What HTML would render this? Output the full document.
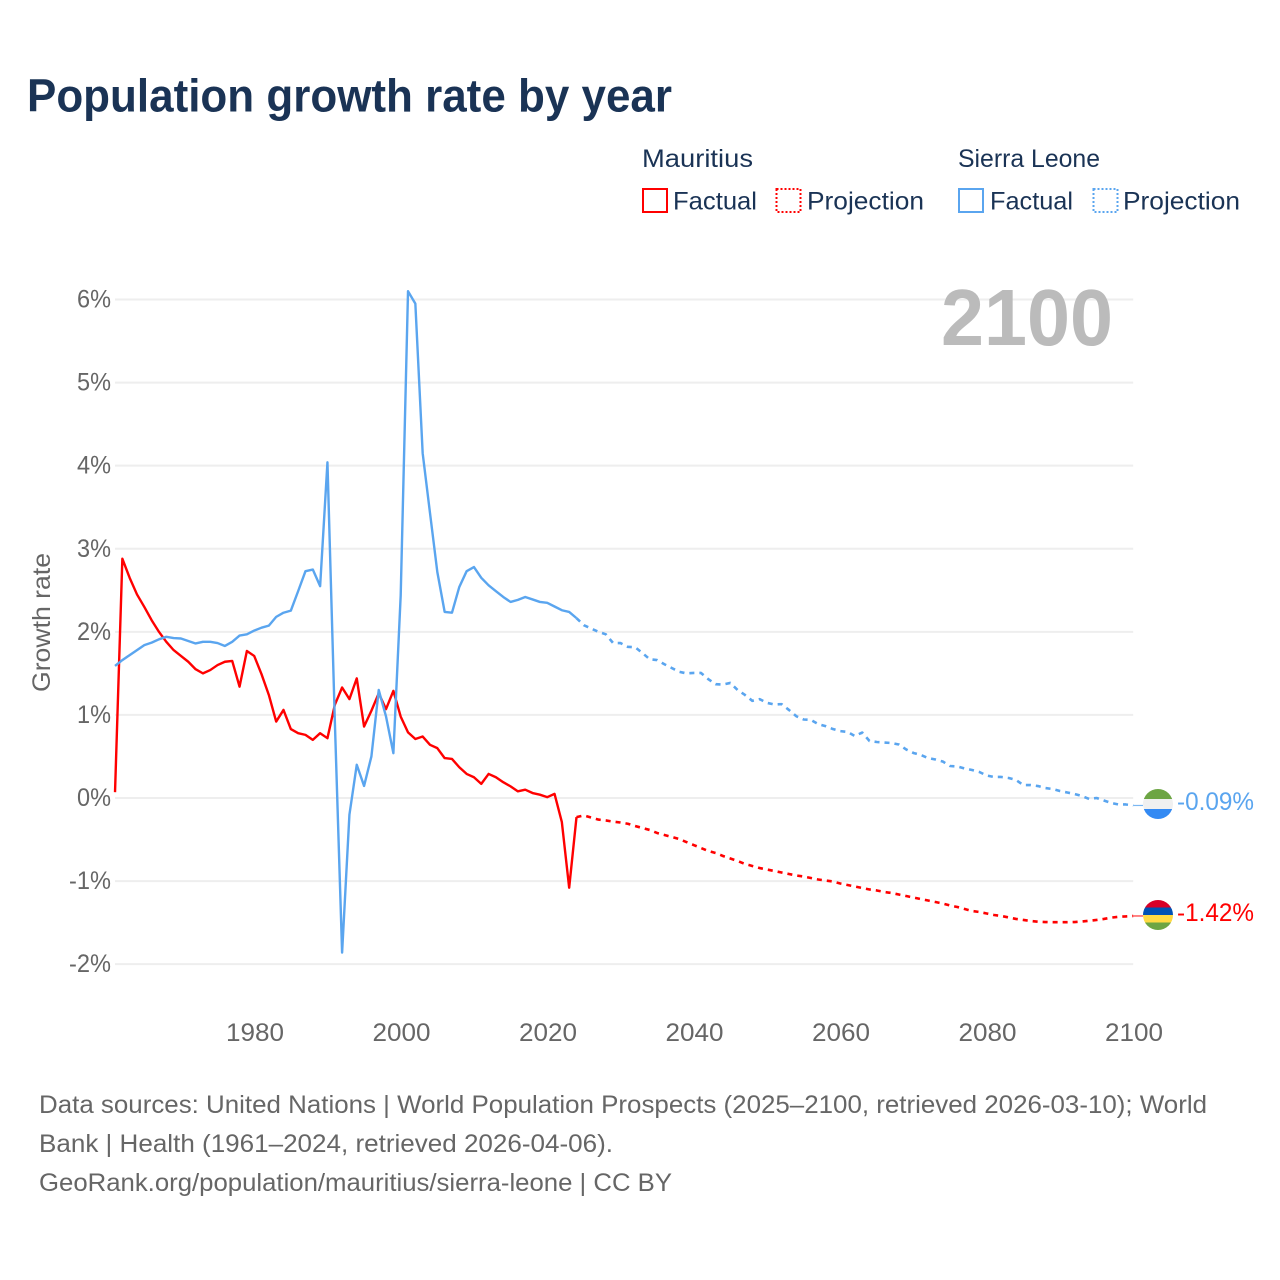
<!DOCTYPE html>
<html lang="en">
<head>
<meta charset="utf-8">
<title>Population growth rate by year</title>
<style>
  html, body { margin: 0; padding: 0; background: #fff; }
  svg { display: block; font-family: "Liberation Sans", sans-serif; }
</style>
</head>
<body>
<svg id="chart" width="1280" height="1280" viewBox="0 0 1280 1280" xmlns="http://www.w3.org/2000/svg">
  <rect width="1280" height="1280" fill="#ffffff"/>
  <text x="27" y="111.5" font-size="46" font-weight="700" fill="#1a3355" textLength="645" lengthAdjust="spacingAndGlyphs">Population growth rate by year</text>

  <g font-size="25" fill="#1a3355">
    <text x="642" y="167" textLength="111" lengthAdjust="spacingAndGlyphs">Mauritius</text>
    <text x="958" y="167" textLength="142" lengthAdjust="spacingAndGlyphs">Sierra Leone</text>
    <rect x="643" y="189" width="24" height="23" fill="none" stroke="#ff0000" stroke-width="2"/>
    <text x="673" y="209.5" textLength="84" lengthAdjust="spacingAndGlyphs">Factual</text>
    <rect x="776.5" y="189" width="24" height="23" fill="none" stroke="#ff0000" stroke-width="2" stroke-dasharray="2 2"/>
    <text x="807" y="209.5" textLength="117" lengthAdjust="spacingAndGlyphs">Projection</text>
    <rect x="959" y="189" width="24" height="23" fill="none" stroke="#5aa5ef" stroke-width="2"/>
    <text x="990" y="209.5" textLength="83" lengthAdjust="spacingAndGlyphs">Factual</text>
    <rect x="1093.5" y="189" width="24" height="23" fill="none" stroke="#5aa5ef" stroke-width="2" stroke-dasharray="2 2"/>
    <text x="1123" y="209.5" textLength="117" lengthAdjust="spacingAndGlyphs">Projection</text>
  </g>

  <g id="grid"></g>
  <g id="y-ticks" font-size="25" fill="#666666"></g>
  <g id="x-ticks" font-size="25" fill="#666666"></g>
  <text transform="translate(50 692) rotate(-90)" font-size="25" fill="#666666" textLength="139" lengthAdjust="spacingAndGlyphs">Growth rate</text>
  <text x="941" y="345" font-size="80" font-weight="700" fill="#bbbbbb" textLength="172" lengthAdjust="spacingAndGlyphs">2100</text>

  <g id="series" fill="none" stroke-linejoin="round"></g>

  <defs>
    <clipPath id="flag-clip-sl"><circle id="clip-sl" cx="1158" cy="804" r="15"/></clipPath>
    <clipPath id="flag-clip-mu"><circle id="clip-mu" cx="1158" cy="915" r="15"/></clipPath>
  </defs>
  <g id="flag-sl" clip-path="url(#flag-clip-sl)">
    <rect x="1143" y="789" width="30" height="10" fill="#6da544"/>
    <rect x="1143" y="799" width="30" height="10" fill="#f0f0f0"/>
    <rect x="1143" y="809" width="30" height="10" fill="#338af3"/>
  </g>
  <g id="flag-mu" clip-path="url(#flag-clip-mu)">
    <rect x="1143" y="900" width="30" height="7.5" fill="#d80027"/>
    <rect x="1143" y="907.5" width="30" height="7.5" fill="#0052b4"/>
    <rect x="1143" y="915" width="30" height="7.5" fill="#ffda44"/>
    <rect x="1143" y="922.5" width="30" height="7.5" fill="#6da544"/>
  </g>
  <text id="end-label-sl" x="1177" y="810" font-size="25" fill="#5aa5ef" textLength="77" lengthAdjust="spacingAndGlyphs"></text>
  <text id="end-label-mu" x="1177" y="921" font-size="25" fill="#ff0000" textLength="77" lengthAdjust="spacingAndGlyphs"></text>

  <g font-size="25" fill="#666666">
    <text x="39" y="1113" textLength="1168" lengthAdjust="spacingAndGlyphs">Data sources: United Nations | World Population Prospects (2025–2100, retrieved 2026-03-10); World</text>
    <text x="39" y="1152" textLength="574" lengthAdjust="spacingAndGlyphs">Bank | Health (1961–2024, retrieved 2026-04-06).</text>
    <text x="39" y="1191" textLength="633" lengthAdjust="spacingAndGlyphs">GeoRank.org/population/mauritius/sierra-leone | CC BY</text>
  </g>
</svg>

<script>
var firstFactualYear = 1961;
var firstProjectionYear = 2024;
var xTickYears = [1980, 2000, 2020, 2040, 2060, 2080, 2100];
var yTickValues = [6, 5, 4, 3, 2, 1, 0, -1, -2];

var mauritiusFactual = [0.07, 2.88, 2.65, 2.45, 2.30, 2.14, 2.00, 1.88, 1.78, 1.71,
  1.64, 1.55, 1.50, 1.54, 1.60, 1.64, 1.65, 1.34, 1.77, 1.71,
  1.49, 1.24, 0.92, 1.06, 0.83, 0.78, 0.76, 0.70, 0.78, 0.72,
  1.12, 1.33, 1.19, 1.44, 0.86, 1.05, 1.26, 1.07, 1.29, 0.98,
  0.79, 0.71, 0.74, 0.64, 0.60, 0.48, 0.47, 0.37, 0.29, 0.25,
  0.17, 0.29, 0.25, 0.19, 0.14, 0.08, 0.10, 0.06, 0.04, 0.01,
  0.05, -0.29, -1.08, -0.23];

var mauritiusProjection = [-0.23, -0.21, -0.235, -0.26, -0.27, -0.285, -0.295, -0.31, -0.337, -0.361, -0.385,
  -0.421, -0.445, -0.469, -0.494, -0.53, -0.566, -0.602, -0.638, -0.662, -0.698,
  -0.728, -0.758, -0.794, -0.818, -0.843, -0.861, -0.879, -0.897, -0.915, -0.933,
  -0.945, -0.963, -0.981, -0.993, -1.005, -1.029, -1.047, -1.065, -1.083, -1.101,
  -1.113, -1.131, -1.143, -1.162, -1.18, -1.198, -1.216, -1.234, -1.252, -1.27,
  -1.294, -1.312, -1.336, -1.36, -1.372, -1.39, -1.408, -1.42, -1.438, -1.456,
  -1.468, -1.48, -1.489, -1.493, -1.495, -1.495, -1.495, -1.493, -1.487, -1.478,
  -1.468, -1.456, -1.44, -1.43, -1.425, -1.42];

var sierraLeoneFactual = [1.59, 1.66, 1.72, 1.78, 1.84, 1.87, 1.91, 1.94, 1.925, 1.92,
  1.89, 1.86, 1.88, 1.88, 1.865, 1.83, 1.88, 1.955, 1.97, 2.015,
  2.05, 2.075, 2.18, 2.23, 2.255, 2.49, 2.73, 2.75, 2.55, 4.04,
  0.95, -1.86, -0.20, 0.40, 0.145, 0.50, 1.30, 0.98, 0.54, 2.44,
  6.10, 5.95, 4.15, 3.43, 2.72, 2.24, 2.23, 2.54, 2.73, 2.78,
  2.65, 2.56, 2.49, 2.42, 2.36, 2.385, 2.42, 2.39, 2.36, 2.35,
  2.305, 2.26, 2.24, 2.165];

var sierraLeoneProjection = [2.165, 2.08, 2.04, 2.00, 1.97, 1.865, 1.865, 1.82, 1.815, 1.745, 1.67,
  1.66, 1.61, 1.565, 1.52, 1.50, 1.505, 1.505, 1.43, 1.37, 1.365,
  1.385, 1.30, 1.24, 1.17, 1.19, 1.145, 1.125, 1.13, 1.06, 0.985,
  0.945, 0.94, 0.89, 0.865, 0.83, 0.805, 0.795, 0.746, 0.788, 0.686,
  0.674, 0.668, 0.662, 0.644, 0.584, 0.542, 0.518, 0.481, 0.463, 0.439,
  0.385, 0.379, 0.355, 0.337, 0.313, 0.271, 0.253, 0.253, 0.241, 0.217,
  0.156, 0.156, 0.144, 0.12, 0.108, 0.084, 0.066, 0.048, 0.024, -0.012,
  0.0, -0.03, -0.06, -0.078, -0.078, -0.09];

var SVG_NS = 'http://www.w3.org/2000/svg';
var RED = '#ff0000';
var BLUE = '#5aa5ef';

function xScale(year) { return 254.2 + (year - 1980) * 7.325; }
function yScale(value) { return 798 - value * 83.08; }

function make(tag, parent, attrs) {
  var el = document.createElementNS(SVG_NS, tag);
  Object.keys(attrs).forEach(function (k) { el.setAttribute(k, attrs[k]); });
  parent.appendChild(el);
  return el;
}

function linePath(values, startYear) {
  return values.map(function (v, i) {
    return (i ? 'L' : 'M') + xScale(startYear + i).toFixed(2) + ' ' + yScale(v).toFixed(2);
  }).join(' ');
}

function fmtPct(v) { return v.toFixed(2) + '%'; }

var gridG = document.getElementById('grid');
var yTickG = document.getElementById('y-ticks');
var xTickG = document.getElementById('x-ticks');
var seriesG = document.getElementById('series');

yTickValues.forEach(function (v) {
  var line = make('line', gridG, { x1: xScale(1961), x2: xScale(2100), y1: yScale(v), y2: yScale(v), stroke: '#eeeeee', 'stroke-width': 2 });
  
  
  var t = make('text', yTickG, { x: 111, y: yScale(v) + 8, 'text-anchor': 'end', textLength: String(v).length > 1 ? 42 : 34, lengthAdjust: 'spacingAndGlyphs' });
  
  
  t.textContent = v + '%';
});

xTickYears.forEach(function (y) {
  var t = make('text', xTickG, { x: xScale(y) + 0.8, y: 1041, 'text-anchor': 'middle', textLength: 58, lengthAdjust: 'spacingAndGlyphs' });
  
  
  t.textContent = y;
});

var muFactualLine = make('path', seriesG, { d: linePath(mauritiusFactual, firstFactualYear), stroke: RED, 'stroke-width': 2.4 });



var muProjectionLine = make('path', seriesG, { d: linePath(mauritiusProjection, firstProjectionYear), stroke: RED, 'stroke-width': 2.6, 'stroke-dasharray': '5 5' });



var slFactualLine = make('path', seriesG, { d: linePath(sierraLeoneFactual, firstFactualYear), stroke: BLUE, 'stroke-width': 2.4 });



var slProjectionLine = make('path', seriesG, { d: linePath(sierraLeoneProjection, firstProjectionYear), stroke: BLUE, 'stroke-width': 2.6, 'stroke-dasharray': '5 5' });



var muLast = mauritiusProjection[mauritiusProjection.length - 1];
var slLast = sierraLeoneProjection[sierraLeoneProjection.length - 1];

var muConnector = make('line', seriesG, { x1: xScale(2100), x2: 1143, y1: yScale(muLast), y2: yScale(muLast), stroke: RED, 'stroke-width': 1.2, opacity: 0.8 });



var slConnector = make('line', seriesG, { x1: xScale(2100), x2: 1143, y1: yScale(slLast), y2: yScale(slLast), stroke: BLUE, 'stroke-width': 1.2, opacity: 0.8 });



function placeEnd(flagId, labelId, value, refY, refLabelY, text) {
  var dy = yScale(value) - refY;
  document.getElementById(flagId).setAttribute('transform', 'translate(0 ' + dy.toFixed(2) + ')');
  var label = document.getElementById(labelId);
  label.setAttribute('y', (refLabelY + dy).toFixed(2));
  label.textContent = text;
}
placeEnd('flag-sl', 'end-label-sl', slLast, yScale(-0.09), 810, fmtPct(slLast));
placeEnd('flag-mu', 'end-label-mu', muLast, yScale(-1.42), 921, fmtPct(muLast));
</script>
</body>
</html>
